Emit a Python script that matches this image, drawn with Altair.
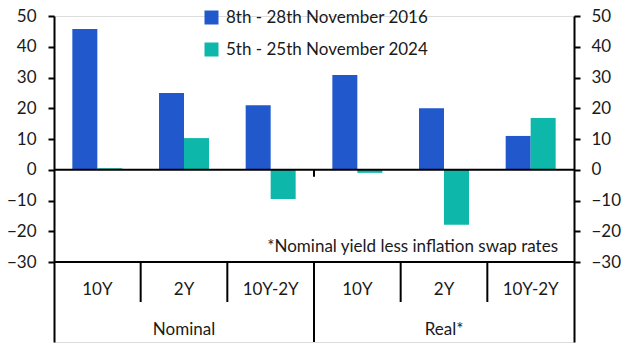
import altair as alt
import pandas as pd

# ---- data ----
groups = ["Nominal", "Nominal", "Nominal", "Real*", "Real*", "Real*"]
tenors = ["10Y", "2Y", "10Y-2Y", "10Y", "2Y", "10Y-2Y"]
series_names = ["8th - 28th November 2016", "5th - 25th November 2024"]
values_2016 = [45.8, 25.0, 21.0, 30.8, 20.0, 11.0]
values_2024 = [0.5, 10.3, -9.5, -1.0, -17.9, 16.8]
footnote = "*Nominal yield less inflation swap rates"
y_ticks = [-30, -20, -10, 0, 10, 20, 30, 40, 50]

colors = ["#2158CC", "#0DB8AA"]
FONT = "Lato"
TXT = "#1a1a1a"

keys = [f"{g} {t}" for g, t in zip(groups, tenors)]

rows = []
for k, v1, v2 in zip(keys, values_2016, values_2024):
    rows.append({"key": k, "series": series_names[0], "value": v1})
    rows.append({"key": k, "series": series_names[1], "value": v2})
bars_df = pd.DataFrame(rows)

# layout levels (in y-data units, beneath the plotted range)
Y_MIN, Y_MAX = -56, 50
Y_FLOOR = -30
Y_INNER_DIV = -43
Y_LABEL = -39.1
Y_GROUP = -52.1

xscale = alt.Scale(domain=keys, paddingInner=0, paddingOuter=0)
yscale = alt.Scale(domain=[Y_MIN, Y_MAX], nice=False, zero=False)

bars = alt.Chart(bars_df).mark_bar().encode(
    x=alt.X("key:N", scale=xscale, axis=None, sort=keys),
    xOffset=alt.XOffset("series:N", scale=alt.Scale(domain=series_names, paddingOuter=0.734, paddingInner=0)),
    y=alt.Y("value:Q", scale=yscale,
            axis=alt.Axis(orient="left", values=y_ticks, title=None, grid=False,
                          domainColor="black", domainWidth=2, tickColor="black", tickWidth=2,
                          tickSize=6, labelPadding=12, labelFontSize=17, labelFont=FONT,
                          labelColor=TXT, format="d")),
    color=alt.Color("series:N", scale=alt.Scale(domain=series_names, range=colors),
                    legend=alt.Legend(orient="none", legendX=149, legendY=-7, title=None,
                                      symbolType="square", symbolSize=196, symbolStrokeWidth=0,
                                      labelFontSize=17, labelFont=FONT, labelColor=TXT,
                                      labelLimit=0, rowPadding=14, labelOffset=6)),
)

hlines_df = pd.DataFrame({"y": [0, Y_FLOOR]})
hlines = alt.Chart(hlines_df).mark_rule(color="black", strokeWidth=2).encode(
    y=alt.Y("y:Q", scale=yscale,
            axis=alt.Axis(orient="right", values=y_ticks, title=None, grid=False,
                          domainColor="black", domainWidth=2, tickColor="black", tickWidth=2,
                          tickSize=6, labelPadding=11, labelFontSize=17, labelFont=FONT,
                          labelColor=TXT, format="d")),
)

div_df = pd.DataFrame({
    "key": [keys[1], keys[2], keys[4], keys[5], keys[3], keys[3]],
    "y": [Y_FLOOR, Y_FLOOR, Y_FLOOR, Y_FLOOR, Y_FLOOR, 0],
    "y2": [Y_INNER_DIV, Y_INNER_DIV, Y_INNER_DIV, Y_INNER_DIV, Y_MIN, -2.3],
})
dividers = alt.Chart(div_df).mark_rule(color="black", strokeWidth=2).encode(
    x=alt.X("key:N", scale=xscale, axis=None, bandPosition=0),
    y=alt.Y("y:Q", scale=yscale, axis=None),
    y2="y2:Q",
)

lab_df = pd.DataFrame({"key": keys, "label": tenors, "y": [Y_LABEL] * len(keys)})
labels = alt.Chart(lab_df).mark_text(fontSize=17, font=FONT, color=TXT, baseline="middle").encode(
    x=alt.X("key:N", scale=xscale, axis=None),
    y=alt.Y("y:Q", scale=yscale, axis=None),
    text="label:N",
)

grp_df = pd.DataFrame({"key": [keys[1], keys[4]], "label": ["Nominal", "Real*"], "y": [Y_GROUP, Y_GROUP]})
grp_labels = alt.Chart(grp_df).mark_text(fontSize=17, font=FONT, color=TXT, baseline="middle").encode(
    x=alt.X("key:N", scale=xscale, axis=None),
    y=alt.Y("y:Q", scale=yscale, axis=None),
    text="label:N",
)

note_df = pd.DataFrame({"key": [keys[5]], "label": [footnote], "y": [-25.1]})
note = alt.Chart(note_df).mark_text(fontSize=17, font=FONT, color=TXT, align="right",
                                    baseline="middle", dx=-16).encode(
    x=alt.X("key:N", scale=xscale, axis=None, bandPosition=1),
    y=alt.Y("y:Q", scale=yscale, axis=None),
    text="label:N",
)

chart = alt.layer(bars, hlines, dividers, labels, grp_labels, note).resolve_axis(
    y="independent"
).properties(
    width=520, height=326,
    padding={"left": 54, "top": 16, "right": 56, "bottom": 14},
    autosize=alt.AutoSizeParams(type="none"),
).configure_view(stroke=None).configure(background="white")

chart.save("out.html", embed_options={"renderer": "svg", "actions": False})
